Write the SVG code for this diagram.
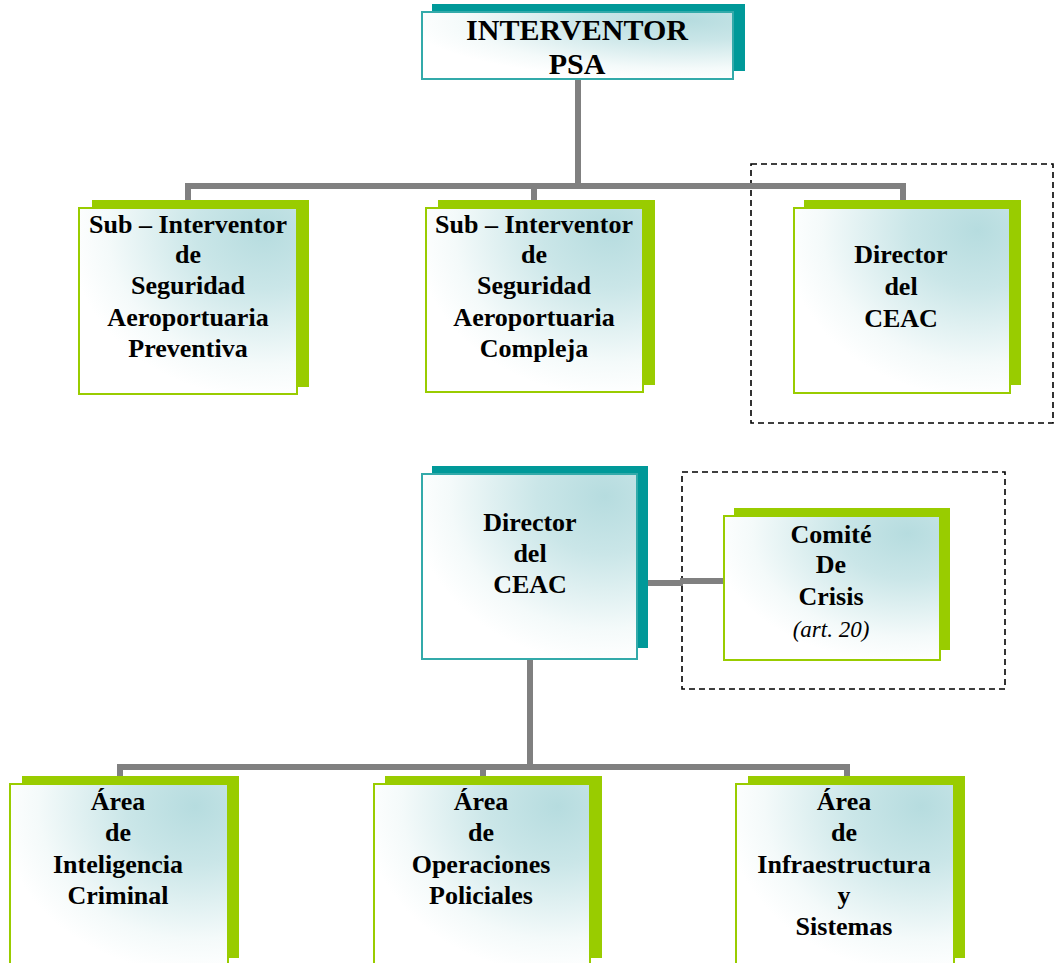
<svg xmlns="http://www.w3.org/2000/svg" width="1055" height="963" viewBox="0 0 1055 963">
<defs>
<radialGradient id="fillg" cx="0.85" cy="0.12" r="0.9" fx="0.85" fy="0.12">
<stop offset="0" stop-color="#b6dcdf"/>
<stop offset="0.35" stop-color="#cae6e8"/>
<stop offset="0.8" stop-color="#f4fafa"/>
<stop offset="1" stop-color="#ffffff"/>
</radialGradient>
<style>
.tsh{fill:#009999}
.gsh{fill:#99cc00}
.tfr{fill:url(#fillg);stroke:#33aaaa;stroke-width:2}
.gfr{fill:url(#fillg);stroke:#99cc00;stroke-width:2}
.t{font-family:"Liberation Serif","Times New Roman",serif;font-weight:bold;font-size:26px;fill:#000;text-anchor:middle}
.big{font-size:30px}
.it{font-weight:normal;font-style:italic;font-size:23px}
.dash{fill:none;stroke:#000;stroke-width:1.6;stroke-dasharray:6 4}
.c{fill:none;stroke:#808080;stroke-width:6}
</style>
</defs>
<rect width="1055" height="963" fill="#fff"/>

<g id="groups">
<rect class="dash" x="751" y="164" width="302" height="259"/>
<rect class="dash" x="682" y="472" width="323" height="217"/>
</g>

<g id="connectors">
<path class="c" d="M578,79 V186"/>
<path class="c" d="M188,200 V186 H903 V200"/>
<path class="c" d="M534,186 V200"/>
<path class="c" d="M530,659 V767"/>
<path class="c" d="M120,776 V767 H847 V776"/>
<path class="c" d="M483,767 V776"/>
<path class="c" d="M637,583 H683"/>
<path class="c" d="M680,581 H724"/>
</g>

<g id="interventor">
<rect class="tsh" x="432" y="4" width="313" height="67"/>
<rect class="tfr" x="422" y="12" width="311" height="67"/>
<text class="t big" x="577" y="40">INTERVENTOR</text>
<text class="t big" x="577" y="74">PSA</text>
</g>

<g id="sub1">
<rect class="gsh" x="92" y="200" width="217" height="187"/>
<rect class="gfr" x="79" y="208" width="218" height="186"/>
<text class="t" x="188" y="233">Sub – Interventor</text>
<text class="t" x="188" y="263">de</text>
<text class="t" x="188" y="294">Seguridad</text>
<text class="t" x="188" y="326">Aeroportuaria</text>
<text class="t" x="188" y="357">Preventiva</text>
</g>

<g id="sub2">
<rect class="gsh" x="438" y="200" width="217" height="185"/>
<rect class="gfr" x="426" y="208" width="217" height="184"/>
<text class="t" x="534" y="233">Sub – Interventor</text>
<text class="t" x="534" y="263">de</text>
<text class="t" x="534" y="294">Seguridad</text>
<text class="t" x="534" y="326">Aeroportuaria</text>
<text class="t" x="534" y="357">Compleja</text>
</g>

<g id="director1">
<rect class="gsh" x="804" y="200" width="217" height="185"/>
<rect class="gfr" x="794" y="208" width="216" height="185"/>
<text class="t" x="901" y="263">Director</text>
<text class="t" x="901" y="295">del</text>
<text class="t" x="901" y="327">CEAC</text>
</g>

<g id="director2">
<rect class="tsh" x="432" y="466" width="216" height="182"/>
<rect class="tfr" x="422" y="474" width="215" height="185"/>
<text class="t" x="530" y="531">Director</text>
<text class="t" x="530" y="562">del</text>
<text class="t" x="530" y="593">CEAC</text>
</g>

<g id="comite">
<rect class="gsh" x="734" y="508" width="216" height="142"/>
<rect class="gfr" x="724" y="516" width="216" height="144"/>
<text class="t" x="831" y="543">Comité</text>
<text class="t" x="831" y="573">De</text>
<text class="t" x="831" y="605">Crisis</text>
<text class="t it" x="831" y="637">(art. 20)</text>
</g>

<g id="area1">
<rect class="gsh" x="22" y="776" width="217" height="182"/>
<rect class="gfr" x="10" y="784" width="218" height="185"/>
<text class="t" x="118" y="810">Área</text>
<text class="t" x="118" y="841">de</text>
<text class="t" x="118" y="873">Inteligencia</text>
<text class="t" x="118" y="904">Criminal</text>
</g>

<g id="area2">
<rect class="gsh" x="385" y="776" width="217" height="182"/>
<rect class="gfr" x="374" y="784" width="216" height="185"/>
<text class="t" x="481" y="810">Área</text>
<text class="t" x="481" y="841">de</text>
<text class="t" x="481" y="873">Operaciones</text>
<text class="t" x="481" y="904">Policiales</text>
</g>

<g id="area3">
<rect class="gsh" x="748" y="776" width="217" height="182"/>
<rect class="gfr" x="736" y="784" width="218" height="185"/>
<text class="t" x="844" y="810">Área</text>
<text class="t" x="844" y="841">de</text>
<text class="t" x="844" y="873">Infraestructura</text>
<text class="t" x="844" y="904">y</text>
<text class="t" x="844" y="935">Sistemas</text>
</g>
</svg>
